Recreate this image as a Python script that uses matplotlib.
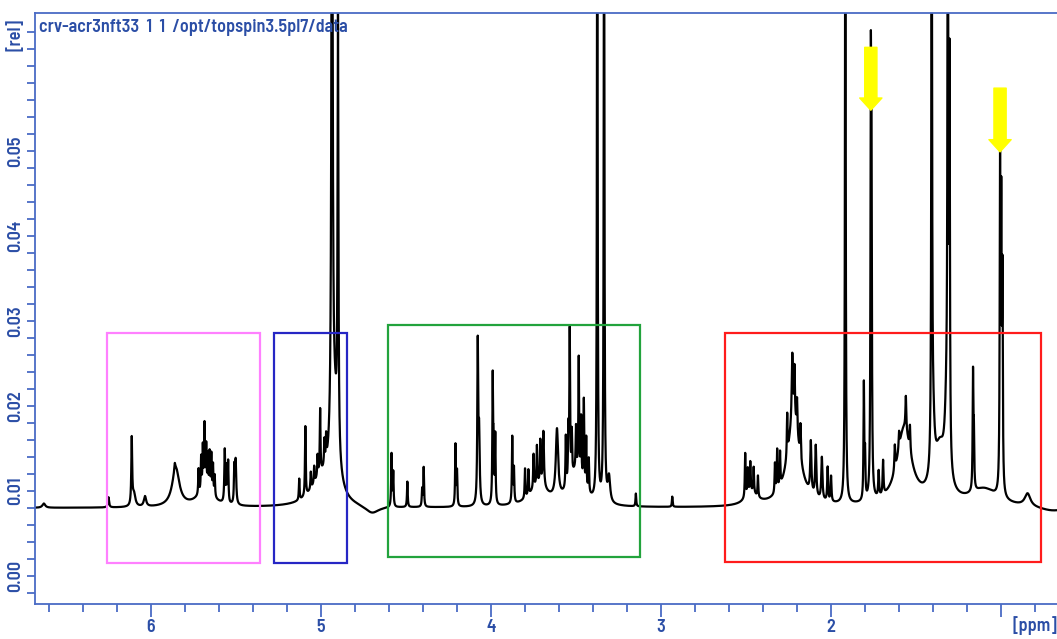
import numpy as np
import matplotlib.pyplot as plt
from matplotlib.patches import Rectangle

# peak table: position (ppm), height above baseline (rel), half width (ppm)
peak_ppm = [6.63, 6.25, 6.113, 6.10, 6.035, 5.854, 5.86,
            5.68, 5.72, 5.705, 5.695, 5.685, 5.675, 5.665, 5.655, 5.645, 5.635, 5.625,
            5.566, 5.555, 5.546, 5.51, 5.502,
            5.128, 5.092, 5.06, 5.04, 5.02, 5.005, 4.98, 4.97, 5.0,
            4.935, 4.90, 4.92, 4.70,
            4.585, 4.575, 4.492, 4.405, 4.396, 4.209, 4.20, 4.078, 4.07,
            3.99, 3.985, 3.975, 3.875, 3.865,
            3.72, 3.80, 3.78, 3.75, 3.73, 3.71, 3.692, 3.612,
            3.50, 3.56, 3.545, 3.537, 3.525, 3.50, 3.484, 3.47, 3.454, 3.44, 3.425,
            3.375, 3.335, 3.306, 3.148, 2.934,
            2.47, 2.505, 2.49, 2.475, 2.455, 2.43,
            2.33, 2.317, 2.30,
            2.22, 2.258, 2.228, 2.215, 2.20, 2.18,
            2.119, 2.09, 2.054, 2.02, 2.00,
            1.916, 1.807, 1.80, 1.766, 1.762, 1.72, 1.694,
            1.57, 1.625, 1.60, 1.56, 1.536,
            1.36, 1.40, 1.32, 1.408, 1.313, 1.303,
            1.165, 1.16, 1.10, 1.006, 0.999, 0.992, 0.844, 0.70]
peak_height = [0.0005, 0.0012, 0.0078, 0.0015, 0.0012, 0.0045, 0.0008,
               0.0018, 0.003, 0.004, 0.005, 0.0075, 0.005, 0.004, 0.0045, 0.0045, 0.0035, 0.0025,
               0.0062, 0.004, 0.0048, 0.004, 0.0052,
               0.0025, 0.0082, 0.002, 0.002, 0.0025, 0.0075, 0.003, 0.003, 0.003,
               0.09, 0.050, 0.010, -0.0009,
               0.0062, 0.004, 0.003, 0.002, 0.0046, 0.0072, 0.004, 0.0185, 0.008,
               0.0145, 0.006, 0.008, 0.0078, 0.004,
               0.0025, 0.0035, 0.003, 0.004, 0.0045, 0.005, 0.0065, 0.008,
               0.004, 0.006, 0.006, 0.0175, 0.005, 0.005, 0.0135, 0.007, 0.010, 0.006, 0.004,
               0.08, 0.08, 0.003, 0.0015, 0.0012,
               0.0015, 0.0052, 0.003, 0.0035, 0.003, 0.0025,
               0.0035, 0.0048, 0.004,
               0.010, 0.005, 0.008, 0.006, 0.004, 0.004,
               0.006, 0.006, 0.005, 0.004, 0.003,
               0.08, 0.0135, 0.005, 0.045, 0.035, 0.003, 0.004,
               0.009, 0.003, 0.002, 0.004, 0.003,
               0.006, 0.006, 0.008, 0.08, 0.08, 0.045,
               0.0135, 0.006, 0.002, 0.037, 0.031, 0.024, 0.0015, -0.0005]
peak_hwhm = [0.01, 0.004, 0.003, 0.01, 0.008, 0.025, 0.003,
             0.06, 0.0025, 0.0025, 0.0025, 0.0025, 0.0025, 0.0025, 0.0025, 0.0025, 0.0025, 0.0025,
             0.003, 0.0025, 0.0025, 0.0025, 0.004,
             0.0025, 0.0025, 0.0025, 0.0025, 0.0025, 0.0025, 0.0025, 0.0025, 0.07,
             0.004, 0.003, 0.025, 0.05,
             0.0025, 0.0025, 0.0025, 0.0025, 0.0025, 0.0025, 0.0025, 0.003, 0.004,
             0.0025, 0.0025, 0.0025, 0.0025, 0.0025,
             0.06, 0.0025, 0.0025, 0.0025, 0.0025, 0.0025, 0.004, 0.008,
             0.05, 0.0025, 0.0025, 0.0025, 0.0025, 0.0025, 0.0025, 0.0025, 0.0025, 0.0025, 0.0025,
             0.0025, 0.0025, 0.008, 0.0025, 0.0025,
             0.04, 0.0025, 0.0025, 0.0025, 0.0025, 0.0025,
             0.0025, 0.0025, 0.0025,
             0.045, 0.0025, 0.004, 0.003, 0.003, 0.003,
             0.004, 0.004, 0.004, 0.003, 0.003,
             0.0025, 0.0025, 0.0025, 0.0025, 0.0025, 0.003, 0.003,
             0.05, 0.003, 0.003, 0.003, 0.003,
             0.04, 0.01, 0.012, 0.0025, 0.0025, 0.0025,
             0.0025, 0.0025, 0.1, 0.0025, 0.0025, 0.0025, 0.02, 0.1]
baseline = 0.0080

ppm = np.linspace(6.68, 0.67, 30000)
spec = np.full_like(ppm, baseline)
for p, h, w in zip(peak_ppm, peak_height, peak_hwhm):
    spec += h * w**2 / ((ppm - p)**2 + w**2)

# annotation boxes (ppm range, rel range)
boxes = [((5.361, 6.256), (0.0015, 0.0286), '#ff80ff'),
         ((4.846, 5.274), (0.0015, 0.0286), '#2626c4'),
         ((3.122, 4.607), (0.0022, 0.0295), '#22a33c'),
         ((0.765, 2.624), (0.0016, 0.0286), '#ff1c1c')]
arrows = [(1.766, 0.0622, 0.0548), (1.006, 0.0574, 0.0499)]

axcol = '#4a6bc5'
txtcol = '#2b4ea6'
font = ['Barlow Semi Condensed', 'Asap Condensed', 'DejaVu Sans']

fig = plt.figure(figsize=(10.57, 6.39), dpi=100)
ax = fig.add_axes([35/1057, (639-603.5)/639, (1057-35)/1057, (603.5-13)/639])
ax.plot(ppm, spec, color='black', lw=1.6)

for (x0, x1), (y0, y1), c in boxes:
    ax.add_patch(Rectangle((x0, y0), x1-x0, y1-y0, fill=False, ec=c, lw=1.6, zorder=3))
for x, yt, yh in arrows:
    ax.annotate('', xy=(x, yh), xytext=(x, yt),
                arrowprops=dict(arrowstyle='simple,head_length=0.55,head_width=1.0,tail_width=0.55',
                                color='#ffff00', shrinkA=0, shrinkB=0, mutation_scale=16), zorder=4)

ax.set_xlim(6.682, 0.671)
ax.set_ylim(-0.00324, 0.06624)
ax.set_xticks([6, 5, 4, 3, 2, 1])
ax.set_xticklabels(['6', '5', '4', '3', '2', ''])
ax.set_xticks(np.arange(0.8, 6.7, 0.2), minor=True)
ax.set_yticks([0.0, 0.01, 0.02, 0.03, 0.04, 0.05])
ax.set_yticklabels(['0.00', '0.01', '0.02', '0.03', '0.04', '0.05'], rotation=90, va='center')
ax.set_yticks(np.arange(-0.002, 0.066, 0.002), minor=True)

for s in ['left', 'bottom', 'top']:
    ax.spines[s].set_color(axcol)
    ax.spines[s].set_linewidth(1.3)
ax.spines['right'].set_visible(False)
ax.tick_params(axis='x', which='major', length=9, width=1.3, color=axcol, pad=2)
ax.tick_params(axis='x', which='minor', length=6, width=1.3, color=axcol)
ax.tick_params(axis='y', which='both', length=6, width=1.3, color=axcol, pad=1.5)
for lab in ax.get_xticklabels() + ax.get_yticklabels():
    lab.set_family(font)
    lab.set_fontsize(13)
    lab.set_fontweight('semibold')
    lab.set_color(txtcol)

fig.text(1035/1057, 4/639, '[ppm]', ha='center', va='bottom',
         family=font, fontsize=13, fontweight='semibold', color=txtcol)
fig.text(16/1057, 1 - 35/639, '[rel]', rotation=90, ha='center', va='center',
         family=font, fontsize=13, fontweight='semibold', color=txtcol)
fig.text(39/1057, 1 - 19/639, 'crv-acr3nft33  1  1  /opt/topspin3.5pl7/data', ha='left', va='top',
         family=font, fontsize=13, fontweight='semibold', color=txtcol)

fig.savefig('out.png', dpi=100)
